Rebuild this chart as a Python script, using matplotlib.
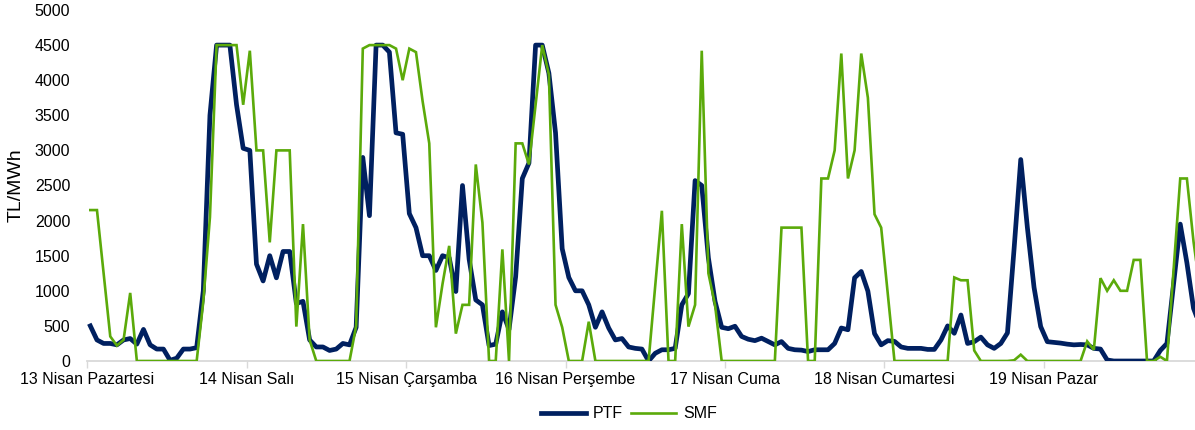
import matplotlib
matplotlib.use("Agg")
import matplotlib.pyplot as plt
import numpy as np

plt.rcParams['font.family'] = ['Liberation Sans', 'DejaVu Sans']

day_labels = ["13 Nisan Pazartesi", "14 Nisan Salı", "15 Nisan Çarşamba",
              "16 Nisan Perşembe", "17 Nisan Cuma", "18 Nisan Cumartesi",
              "19 Nisan Pazar"]

ptf = [500, 300, 250, 250, 230, 300, 320, 240, 450, 230, 170, 170, 10, 40, 170, 170,
       190, 1000, 3500, 4500, 4500, 4500, 3650, 3030,
       3000, 1380, 1140, 1500, 1185, 1560, 1560, 820, 850, 300, 200, 200, 150, 170, 250, 230,
       480, 2900, 2070, 4500, 4500, 4400, 3250, 3230,
       2100, 1900, 1500, 1500, 1290, 1500, 1470, 990, 2500, 1450, 870, 800, 220, 240, 700, 450,
       1200, 2600, 2820, 4500, 4500, 4100, 3250, 1600,
       1190, 1000, 1000, 800, 480, 700, 470, 300, 320, 200, 180, 170, 0, 110, 160, 160,
       180, 800, 960, 2570, 2500, 1470, 850, 480,
       460, 495, 350, 310, 290, 325, 277, 230, 277, 180, 160, 155, 135, 160, 160, 160,
       250, 470, 445, 1185, 1275, 995, 390, 230,
       290, 280, 200, 180, 180, 180, 165, 165, 300, 500, 395, 655, 250, 275, 340, 230,
       180, 250, 400, 1600, 2870, 1900, 1050, 490,
       275, 265, 255, 240, 230, 235, 230, 180, 170, 15, 0, 0, 0, 0, 0, 0,
       0, 150, 250, 1100, 1950, 1400, 750, 500]

smf = [2150, 2150, 1250, 350, 220, 300, 970, 0, 0, 0, 0, 0, 0, 0, 0, 0,
       0, 850, 2050, 4500, 4500, 4500, 4500, 3650,
       4420, 3000, 3000, 1690, 3000, 3000, 3000, 490, 1950, 300, 0, 0, 0, 0, 0, 0,
       500, 4450, 4500, 4500, 4500, 4500, 4450, 4000,
       4450, 4400, 3700, 3100, 480, 1100, 1640, 390, 800, 800, 2800, 1970, 0, 0, 1590, 0,
       3100, 3100, 2800, 3650, 4500, 4080, 800, 480,
       0, 0, 0, 560, 0, 0, 0, 0, 0, 0, 0, 0, 0, 1070, 2140, 0,
       0, 1950, 490, 800, 4420, 1250, 800, 0,
       0, 0, 0, 0, 0, 0, 0, 0, 1900, 1900, 1900, 1900, 0, 0, 2600, 2600,
       3000, 4380, 2600, 3000, 4380, 3750, 2090, 1900,
       950, 0, 0, 0, 0, 0, 0, 0, 0, 0, 1190, 1150, 1150, 150, 0, 0,
       0, 0, 0, 10, 90, 0, 0, 0, 0, 0, 0, 0, 0, 0, 280, 160,
       1180, 1000, 1150, 1000, 1000, 1440, 1440, 0, 0, 60, 0, 1300, 2600, 2600, 1700, 1000]

W, H = 1195, 430
fig = plt.figure(figsize=(W / 100, H / 100), dpi=100)
ax_left, ax_right, ax_top, ax_bottom = 87, 1203.5, 10, 361
ax = fig.add_axes([ax_left / W, 1 - ax_bottom / H, (ax_right - ax_left) / W, (ax_bottom - ax_top) / H])

hours = np.arange(len(ptf))
ax.plot(hours, ptf, color='#002060', lw=3.4, label='PTF', solid_joinstyle='round', zorder=3)
ax.plot(hours, smf, color='#5BAA0A', lw=1.9, label='SMF', solid_joinstyle='miter', zorder=4)

ax.set_xlim(-0.5, len(ptf) - 0.5)
ax.set_ylim(0, 5000)
ax.set_yticks(np.arange(0, 5001, 500))
ax.tick_params(axis='y', length=0, pad=12, labelsize=11.5, labelcolor='#000000')

tick_pos = [-0.5 + 24 * k for k in range(8)]
ax.set_xticks(tick_pos)
ax.set_xticklabels([])
ax.tick_params(axis='x', length=5, width=1, color='#D9D9D9', direction='out')
for k, lab in enumerate(day_labels):
    ax.text(tick_pos[k], -0.03, lab, transform=ax.get_xaxis_transform(),
            ha='center', va='top', fontsize=11.5, color='#000000')

for s in ['top', 'right', 'left']:
    ax.spines[s].set_visible(False)
ax.spines['bottom'].set_color('#D9D9D9')
ax.spines['bottom'].set_linewidth(1.3)

fig.text(16 / W, 1 - 185 / H, 'TL/MWh', rotation=90, ha='center', va='center', fontsize=14)

fig.legend(loc='center', bbox_to_anchor=(629 / W, 1 - 414 / H), ncol=2, frameon=False,
           fontsize=11.5, handlelength=2.8, handletextpad=0.45, columnspacing=0.5)

fig.savefig('out.png', dpi=100)
